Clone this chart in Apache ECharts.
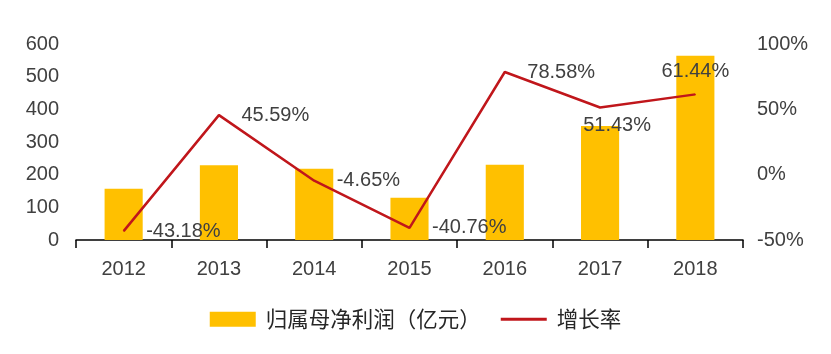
<!DOCTYPE html>
<html>
<head>
<meta charset="utf-8">
<script src="https://cdn.jsdelivr.net/npm/echarts@6/dist/echarts.min.js"></script>
<style>
  html, body { margin: 0; padding: 0; background: #fff; }
  #main { width: 831px; height: 354px; }
</style>
</head>
<body>
<div id="main"></div>
<script>
// 年份
const years = ['2012', '2013', '2014', '2015', '2016', '2017', '2018'];
// 归属母净利润（亿元）
const profit = [157, 228.6, 218.0, 129.1, 230.6, 349.2, 563.8];
// 增长率 %
const growth = [-43.18, 45.59, -4.65, -40.76, 78.58, 51.43, 61.44];

const textColor = '#404040';
const lineColor = '#C0161B';
const font = '"Liberation Sans", Arial, "Noto Sans CJK SC", sans-serif';

// 标签位置（按年份下标）
const labelLayout = {
    5: { position: 'bottom', distance: 8, offset: [17, 0] },
    6: { position: 'top', distance: 12 }
};

const growthData = growth.map((v, i) => {
    const item = { value: v };
    if (labelLayout[i]) item.label = labelLayout[i];
    return item;
});

const chart = echarts.init(document.getElementById('main'));
chart.setOption({
    animation: false,
    grid: { left: 76, right: 88, top: 44, bottom: 114 },
    legend: {
        bottom: 19,
        left: 'center',
        itemWidth: 46,
        itemHeight: 15,
        itemGap: 20,
        textStyle: {
            fontSize: 21.5,
            color: '#262626',
            fontFamily: '"Noto Sans CJK SC", sans-serif',
            padding: [0, 0, 0, 5]
        },
        data: [
            { name: '归属母净利润（亿元）', icon: 'rect' },
            { name: '增长率', icon: 'path://M0 0h46v3H0z', itemStyle: { color: lineColor } }
        ]
    },
    xAxis: {
        type: 'category',
        data: years,
        axisLine: { lineStyle: { color: '#000', width: 1.5 } },
        axisTick: { show: true, length: 8, lineStyle: { color: '#000', width: 1.5 } },
        axisLabel: { fontSize: 20, color: textColor, fontFamily: font, margin: 19 }
    },
    yAxis: [
        {
            type: 'value',
            min: 0, max: 600, interval: 100,
            splitLine: { show: false },
            axisLine: { show: false },
            axisTick: { show: false },
            axisLabel: { fontSize: 20, color: textColor, fontFamily: font, margin: 17 }
        },
        {
            type: 'value',
            min: -50, max: 100, interval: 50,
            splitLine: { show: false },
            axisLine: { show: false },
            axisTick: { show: false },
            axisLabel: { fontSize: 20, color: textColor, fontFamily: font, margin: 14, formatter: '{value}%' }
        }
    ],
    series: [
        {
            name: '归属母净利润（亿元）',
            type: 'bar',
            data: profit,
            barWidth: '40%',
            itemStyle: { color: '#FFC000' }
        },
        {
            name: '增长率',
            type: 'line',
            yAxisIndex: 1,
            data: growthData,
            symbol: 'circle',
            symbolSize: 1,
            showAllSymbol: true,
            lineStyle: { color: lineColor, width: 2.5 },
            itemStyle: { color: lineColor },
            label: {
                show: true,
                position: 'right',
                distance: 22,
                fontSize: 20,
                color: textColor,
                fontFamily: font,
                formatter: p => p.value.toFixed(2) + '%'
            }
        }
    ]
});
</script>
</body>
</html>
